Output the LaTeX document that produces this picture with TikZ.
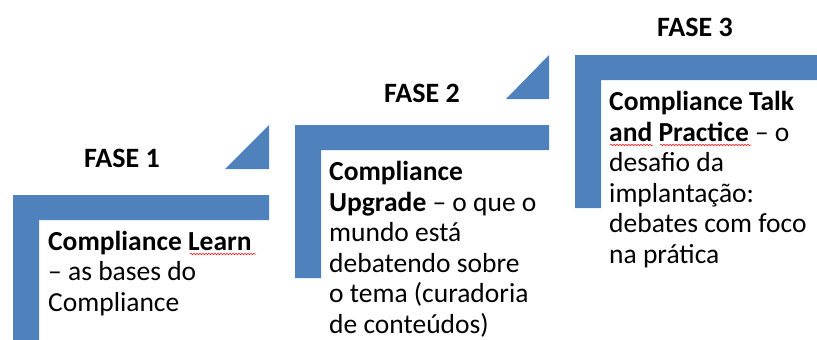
\documentclass[tikz,border=0pt]{standalone}
\usepackage{fontspec}
\setmainfont{Carlito}
\usetikzlibrary{decorations.pathmorphing}
\definecolor{stepblue}{HTML}{4F81BD}
\tikzset{
  stepbar/.style={fill=stepblue,draw=none},
  phaselabel/.style={font=\fontsize{28}{32}\selectfont\bfseries,inner sep=0pt},
  bodytext/.style={font=\fontsize{27.5}{30.5}\selectfont,align=left,inner sep=0pt,anchor=base west},
  spell/.style={draw=red,line width=0.5pt,decorate,decoration={snake,segment length=3pt,amplitude=0.8pt}}
}
\begin{document}
\begin{tikzpicture}[x=1pt,y=-1pt]
\useasboundingbox (0,0) rectangle (817,340);
% step 1
\path[stepbar] (13,195) -- (269,195) -- (269,220) -- (39,220) -- (39,340) -- (13,340) -- cycle;
\path[stepbar] (269,125) -- (269,169) -- (225,169) -- cycle;
% step 2
\path[stepbar] (295,125) -- (549,125) -- (549,150) -- (321,150) -- (321,278) -- (295,278) -- cycle;
\path[stepbar] (549,55) -- (549,99) -- (506,99) -- cycle;
% step 3
\path[stepbar] (575,55) -- (817,55) -- (817,80) -- (601,80) -- (601,208) -- (575,208) -- cycle;

\node[phaselabel] (f1) at (122,158) {FASE 1};
\node[phaselabel] (f2) at (422,93) {FASE 2};
\node[phaselabel] (f3) at (695,27) {FASE 3};

% base anchor = baseline of the last line
\node[bodytext] (t1) at (48,311) {\textbf{Compliance Learn}\\– as bases do\\Compliance};
\node[bodytext] (t2) at (329,333) {\textbf{Compliance}\\\textbf{Upgrade} – o que o\\mundo está\\debatendo sobre\\o tema (curadoria\\de conteúdos)};
\node[bodytext] (t3) at (609,263) {\textbf{Compliance Talk}\\\textbf{and Practice} – o\\desafio da\\implantação:\\debates com foco\\na prática};

\draw[spell] (190,254) -- (256,254);
\draw[spell] (610,145) -- (653,145);
\draw[spell] (660,145) -- (751,145);
\end{tikzpicture}
\end{document}
